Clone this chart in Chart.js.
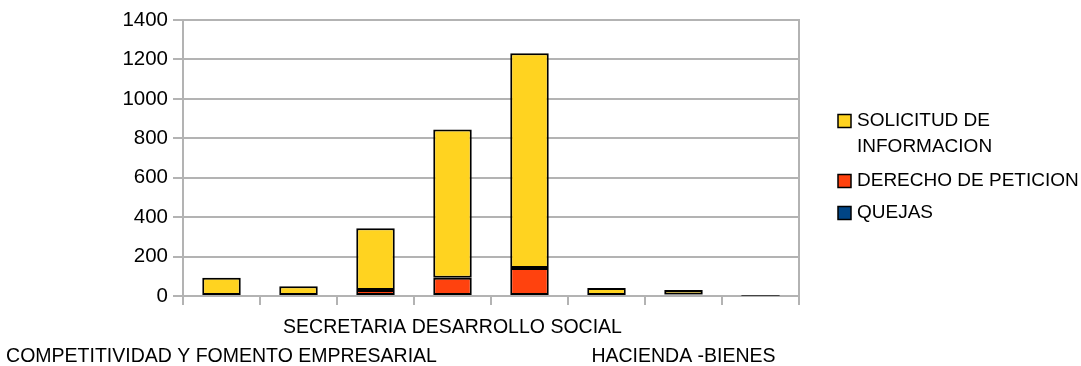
<!DOCTYPE html>
<html>
<head>
<meta charset="utf-8">
<script src="https://cdn.jsdelivr.net/npm/chart.js@4/dist/chart.umd.min.js"></script>
<style>
  html, body { margin: 0; padding: 0; background: #ffffff; }
  #wrap { width: 1081px; height: 366px; }
</style>
</head>
<body>
<div id="wrap"><canvas id="c" width="1081" height="366"></canvas></div>
<script>
// Dependencies (only three names are printed on the axis)
const categories = [
  'COMPETITIVIDAD Y FOMENTO EMPRESARIAL', '', '',
  'SECRETARIA DESARROLLO SOCIAL', '', '',
  'HACIENDA -BIENES', ''
];

// Series values per dependency
const quejas             = [0, 0, 0, 0, 0, 0, 0, 1];
const derechoDePeticion  = [0, 0, 30, 93, 142, 0, 8, 1];
const solicitudInfo      = [92, 50, 314, 751, 1089, 40, 22, 2];

// Legend text, one entry per line
const seriesNames = {
  solicitud: ['SOLICITUD DE', 'INFORMACION'],
  derecho: ['DERECHO DE PETICION'],
  quejas: ['QUEJAS']
};

const yTicks = [0, 200, 400, 600, 800, 1000, 1200, 1400];

const FONT = 'Liberation Sans, Arial, sans-serif';
const GRID = '#b3b3b3';

// Legend drawn at the right of the plot, with wrapped names
const sideLegend = {
  id: 'sideLegend',
  afterDraw(chart) {
    const ctx = chart.ctx;
    const order = [2, 1, 0];
    const firstLineY = [121, 181, 213];
    const lineGap = 26;
    const boxX = 838, box = 13, textX = 857;
    ctx.save();
    ctx.font = '19px ' + FONT;
    ctx.textBaseline = 'middle';
    ctx.textAlign = 'left';
    order.forEach((di, k) => {
      const ds = chart.data.datasets[di];
      const y = firstLineY[k];
      ctx.fillStyle = ds.backgroundColor;
      ctx.fillRect(boxX, y - box / 2, box, box);
      ctx.strokeStyle = '#000000';
      ctx.lineWidth = 1.5;
      ctx.strokeRect(boxX, y - box / 2, box, box);
      ctx.fillStyle = '#000000';
      ds.legendLines.forEach((line, li) => {
        ctx.fillText(line, textX, y + li * lineGap);
      });
    });
    ctx.restore();
  }
};

// Keep the plot box fixed regardless of how far wide labels overhang
function noOverhang(s) {
  s.paddingLeft = 0;
  s.paddingRight = 0;
  s.paddingTop = 0;
  s.paddingBottom = 0;
}

new Chart(document.getElementById('c'), {
  type: 'bar',
  data: {
    labels: categories,
    datasets: [
      { label: 'QUEJAS', legendLines: seriesNames.quejas, data: quejas,
        backgroundColor: '#004586' },
      { label: 'DERECHO DE PETICION', legendLines: seriesNames.derecho, data: derechoDePeticion,
        backgroundColor: '#ff420e' },
      { label: 'SOLICITUD DE INFORMACION', legendLines: seriesNames.solicitud, data: solicitudInfo,
        backgroundColor: '#ffd320' }
    ]
  },
  options: {
    responsive: false,
    animation: false,
    devicePixelRatio: 1,
    layout: { padding: { top: 20, left: 0, right: 0, bottom: 0 } },
    datasets: {
      bar: {
        borderColor: '#000000',
        borderWidth: 2,
        borderSkipped: false,
        categoryPercentage: 1.0,
        barPercentage: 0.5
      }
    },
    plugins: {
      legend: { display: false },
      tooltip: { enabled: false }
    },
    scales: {
      x: {
        stacked: true,
        afterFit(s) { s.height = 70; noOverhang(s); },
        grid: {
          display: true,
          drawOnChartArea: false,
          drawTicks: true,
          tickLength: 9,
          color: GRID,
          lineWidth: 2,
          offset: true
        },
        border: { display: true, color: GRID, width: 2 },
        ticks: {
          autoSkip: false,
          maxRotation: 0,
          minRotation: 0,
          padding: 8,
          color: '#000000',
          font: { family: FONT, size: 19.5, lineHeight: 1.48 },
          callback(v, i) {
            const t = categories[i];
            return i % 2 ? [t, ''] : ['', t];
          }
        }
      },
      y: {
        stacked: true,
        min: 0,
        max: 1400,
        afterFit(s) { s.width = 183; noOverhang(s); },
        afterBuildTicks(s) { s.ticks = yTicks.map(v => ({ value: v })); },
        grid: {
          color: GRID,
          lineWidth: 2,
          tickLength: 10,
          drawTicks: true
        },
        border: { display: true, color: GRID, width: 2 },
        ticks: {
          padding: 5,
          color: '#000000',
          font: { family: FONT, size: 20.5 },
          callback(v) { return String(v); }
        }
      },
      frame: {
        type: 'linear',
        position: 'right',
        min: 0,
        max: 1400,
        afterFit(s) { s.width = 282; noOverhang(s); },
        grid: { display: false },
        ticks: { display: false },
        border: { display: true, color: GRID, width: 2 }
      }
    }
  },
  plugins: [sideLegend]
});
</script>
</body>
</html>
